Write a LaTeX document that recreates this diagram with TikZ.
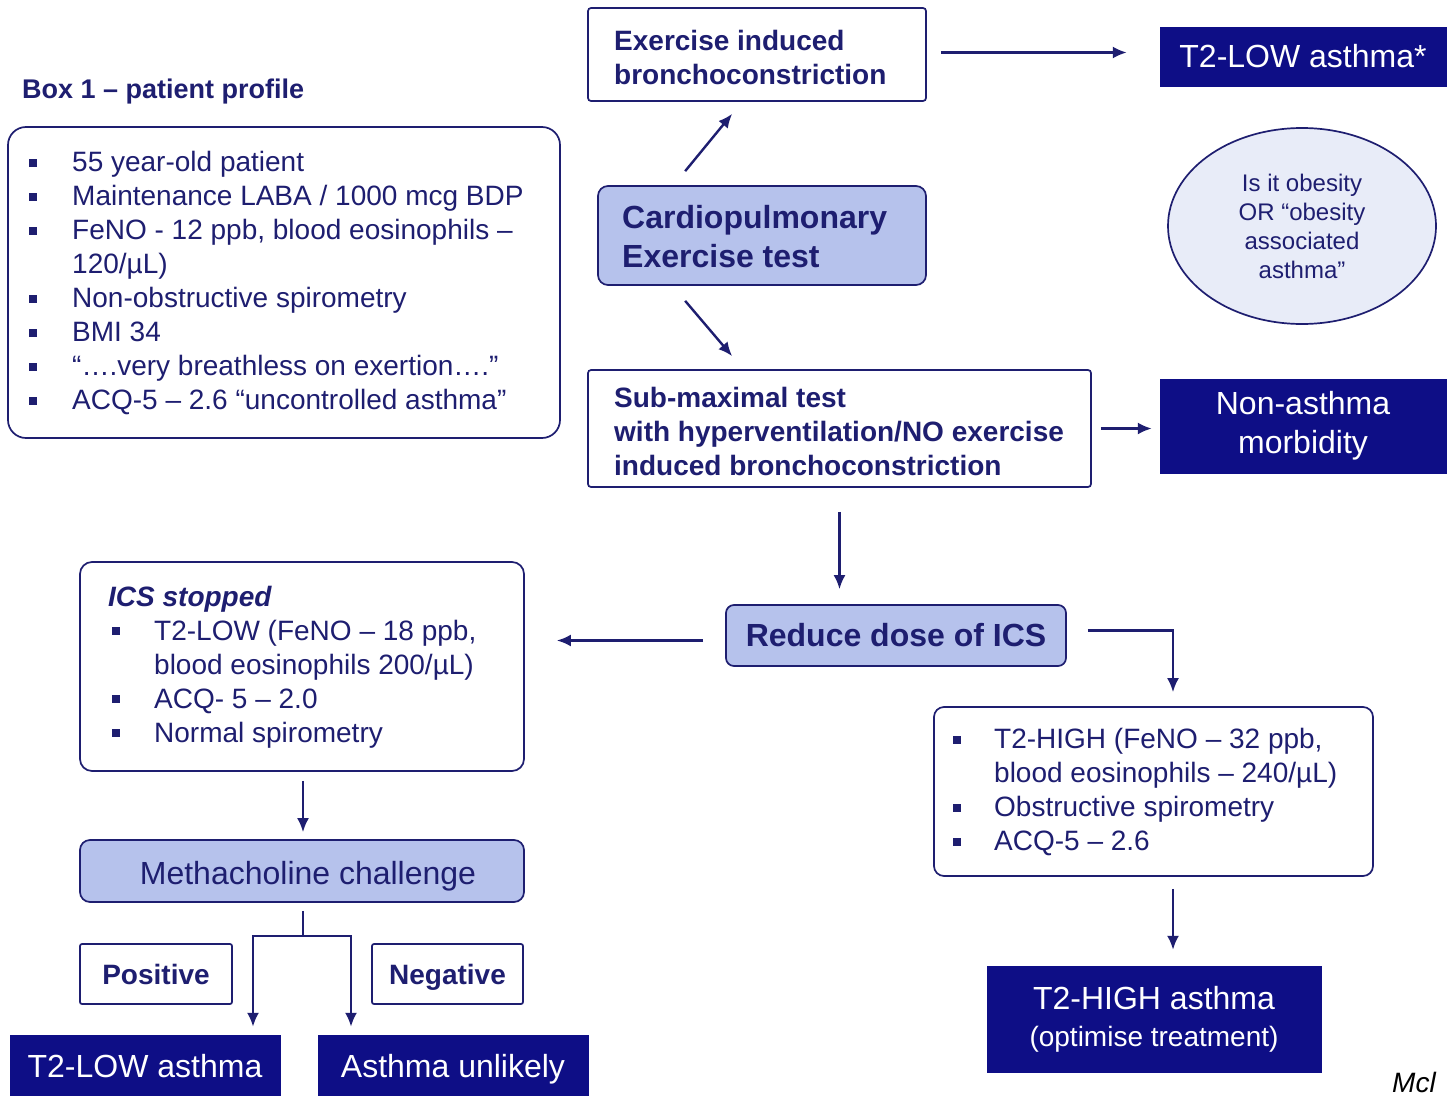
\documentclass[tikz,border=0pt]{standalone}
\usepackage{fontspec}
\setmainfont{Liberation Sans}
\usetikzlibrary{arrows.meta,shapes.geometric,calc}
\definecolor{navy}{RGB}{30,30,112}
\definecolor{darkbox}{RGB}{14,14,134}
\definecolor{lightbox}{RGB}{182,194,236}
\definecolor{ellfill}{RGB}{232,236,248}
\newcommand\fs[2]{\fontsize{#1}{#2}\selectfont}
\newcommand\sqb[1]{\makebox[#1][l]{\rule[5pt]{8pt}{8pt}}}
\newcommand\sqi[1]{\hspace*{#1}}
\newcommand\lowr[2]{\raisebox{-#1}[\height][\depth]{#2}}
\begin{document}
\begin{tikzpicture}[x=1pt,y=-1pt,
 boxline/.style={draw=navy,line width=1.7pt,inner sep=0pt},
 wbox/.style={boxline,fill=white,rounded corners=#1},
 wbox/.default=3pt,
 lbox/.style={boxline,fill=lightbox,rounded corners=#1,text=navy},
 lbox/.default=9pt,
 dbox/.style={draw=darkbox,fill=darkbox,inner sep=0pt,text=white,align=center},
 txt/.style={inner sep=0pt,text=navy,align=left,anchor=west},
 arr/.style={draw=navy,line width=2.4pt,-{Latex[length=14pt,width=12pt]}},
 ln/.style={draw=navy,line width=2.4pt},
]
\useasboundingbox[fill=white] (0,0) rectangle (1451,1095);

% ---- Box 1
\node[txt,font=\bfseries\fs{27}{32}] (title) at (22,92) {Box 1 – patient profile};
\node[wbox=18pt,minimum width=552,minimum height=311] (box1) at (284,282.5) {};
\node[txt,font=\fs{28}{34}] (box1t) at (29,283) {%
\sqb{43pt}55 year-old patient\\
\sqb{43pt}Maintenance LABA / 1000 mcg BDP\\
\sqb{43pt}FeNO - 12 ppb, blood eosinophils –\\
\sqi{43pt}120/µL)\\
\sqb{43pt}Non-obstructive spirometry\\
\sqb{43pt}BMI 34\\
\sqb{43pt}“….very breathless on exertion….”\\
\sqb{43pt}ACQ-5 – 2.6 “uncontrolled asthma”};

% ---- top centre
\node[wbox,minimum width=338,minimum height=93] (ex) at (757,54.5) {};
\node[txt,font=\bfseries\fs{28}{34}] (ext) at (614,57) {Exercise induced\\bronchoconstriction};
\node[dbox,minimum width=286,minimum height=59,font=\fs{32}{38}] (t2low) at (1303,56.5) {T2-LOW asthma*};

\node[lbox=10pt,minimum width=328,minimum height=99] (cardio) at (762,235.5) {};
\node[txt,font=\bfseries\fs{32}{39}] (cardiot) at (622,237) {Cardiopulmonary\\Exercise test};

\node[ellipse,draw=navy,line width=1.7pt,fill=ellfill,inner sep=0pt,minimum width=268,minimum height=196,
      align=center,text=navy,font=\fs{24}{29}] (obes) at (1302,226)
      {Is it obesity\\OR “obesity\\associated\\asthma”};

\node[wbox,minimum width=503,minimum height=117] (sub) at (839.5,428.5) {};
\node[txt,font=\bfseries\fs{28}{34}] (subt) at (614,431) {Sub-maximal test\\with hyperventilation/NO exercise\\induced bronchoconstriction};
\node[dbox,minimum width=286,minimum height=94,font=\fs{32}{39}] (nonas) at (1303,426) {Non-asthma\\morbidity};

\node[lbox=8pt,minimum width=340,minimum height=61,font=\bfseries\fs{32}{38}] (reduce) at (896,635.5) {Reduce dose of ICS};

% ---- lower left
\node[wbox=12pt,minimum width=444,minimum height=209] (ics) at (302,666.5) {};
\node[txt,font=\fs{28}{34}] (icst) at (108,667) {%
{\bfseries\itshape ICS stopped}\\
\sqi{4pt}\sqb{42pt}T2-LOW (FeNO – 18 ppb,\\
\sqi{46pt}blood eosinophils 200/µL)\\
\sqi{4pt}\sqb{42pt}ACQ- 5 – 2.0\\
\sqi{4pt}\sqb{42pt}Normal spirometry};

\node[lbox=10pt,minimum width=444,minimum height=62,font=\fs{32}{38}] (meth) at (302,871) {\lowr{5pt}{\hspace*{12pt}Methacholine challenge}};

\node[wbox=2pt,minimum width=152,minimum height=60,font=\bfseries\fs{28}{34},text=navy] (pos) at (156,974) {Positive};
\node[wbox=2pt,minimum width=151,minimum height=60,font=\bfseries\fs{28}{34},text=navy] (neg) at (447.5,974) {\lowr{3pt}{Negative}};

\node[dbox,minimum width=270,minimum height=62,font=\fs{32}{38}] (low2) at (145,1066) {T2-LOW asthma};
\node[dbox,minimum width=270,minimum height=62,font=\fs{32}{38}] (unl) at (453,1066) {\lowr{3pt}{Asthma unlikely}};

% ---- lower right
\node[wbox=10pt,minimum width=439,minimum height=169] (hi) at (1153.5,791.5) {};
\node[txt,font=\fs{28}{34}] (hit) at (953,792) {%
\sqb{41pt}T2-HIGH (FeNO – 32 ppb,\\
\sqi{41pt}blood eosinophils – 240/µL)\\
\sqb{41pt}Obstructive spirometry\\
\sqb{41pt}ACQ-5 – 2.6};

\node[dbox,minimum width=334,minimum height=106,font=\fs{32}{37}] (hiA) at (1154,1019)
  {T2-HIGH asthma\\{\fs{28}{37}(optimise treatment)}};

\node[inner sep=0pt,anchor=base west,font=\itshape\fs{28}{32},text=black] (mcl) at (1392,1092) {Mcl};

% ---- connectors
\draw[arr] ($(ex.east)+(14,-2)$) -- ($(ex.east -| t2low.west)+(-33,-2)$);
\draw[arr] ($(cardio.north west)+(88,-14)$) -- ($(ex.south west)+(145,12)$);
\draw[arr] ($(cardio.south west)+(88,15)$) -- ($(sub.north west)+(145,-13)$);
\draw[arr] ($(sub.east)+(9,0)$) -- ($(sub.east -| nonas.west)+(-8,0)$);
\draw[arr] ($(sub.south)+(0,24)$) -- ($(sub.south |- reduce.north)+(0,-15)$);
\draw[arr] ($(reduce.west)+(-22,5)$) -- ($(reduce.west -| ics.east)+(32,5)$);
\draw[arr] ($(reduce.east)+(21,-5)$) -| ($(hi.north)+(19.5,-14)$);
\draw[arr] ($(ics.south)+(1,9)$) -- ($(meth.north)+(1,-7)$);
\coordinate (br) at ($(meth.south)+(1,33)$);
\draw[ln] ($(meth.south)+(1,8)$) -- (br);
\draw[arr] (br) -| ($(low2.north)+(108,-8)$);
\draw[arr] (br) -| ($(unl.north)+(-102,-8)$);
\draw[arr] ($(hi.south)+(19.5,12)$) -- ($(hiA.north)+(19,-16)$);
\end{tikzpicture}
\end{document}
